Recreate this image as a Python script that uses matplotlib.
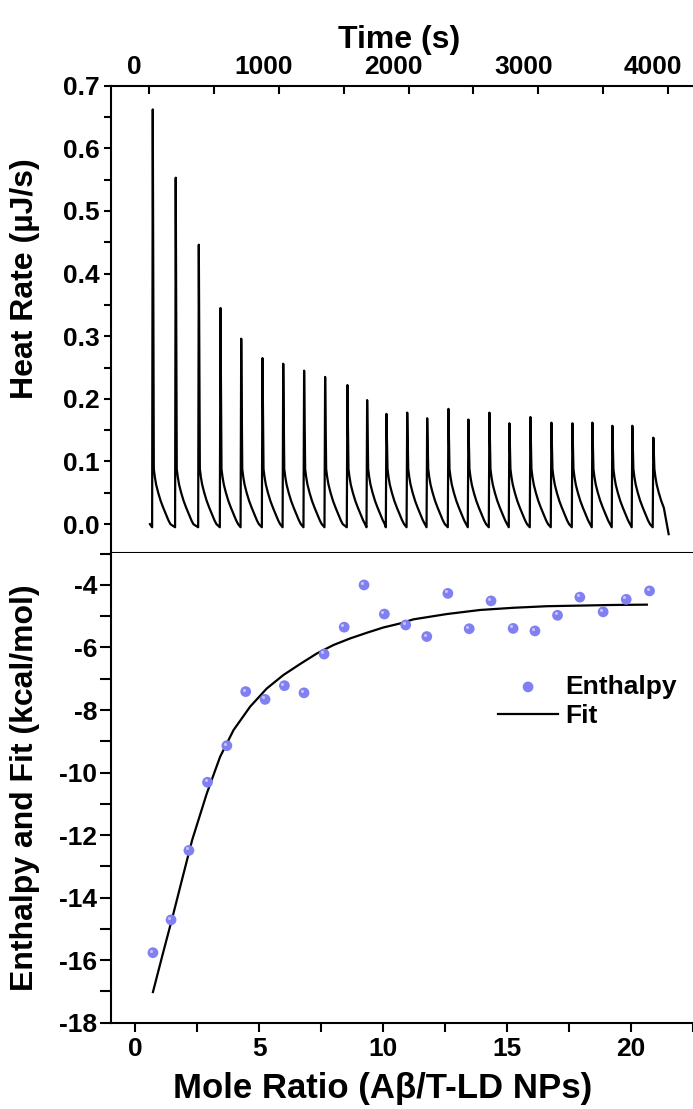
# -*- coding: utf-8 -*-
import numpy as np
import matplotlib
matplotlib.use("Agg")
import matplotlib.pyplot as plt
from matplotlib.transforms import ScaledTranslation

# ------------------------------------------------------------------
# Data
# ------------------------------------------------------------------
# raw thermogram: injection times (s) and peak heights (uJ/s)
inj_time = [23, 200, 378, 545, 705, 869, 1029, 1190, 1352, 1524, 1676, 1825,
            1985, 2139, 2303, 2457, 2619, 2773, 2935, 3097, 3259, 3413, 3567,
            3721, 3883]
peak_height = [0.662, 0.553, 0.446, 0.345, 0.296, 0.265, 0.256, 0.245, 0.235,
               0.222, 0.198, 0.176, 0.178, 0.169, 0.184, 0.167, 0.178, 0.161,
               0.171, 0.162, 0.161, 0.162, 0.157, 0.157, 0.138]
# shape of the decay after each spike (seconds after injection, uJ/s)
tail_dt = [12, 20, 30, 46, 65, 85, 105, 125, 140]
tail_val = [0.088, 0.075, 0.063, 0.050, 0.037, 0.026, 0.016, 0.006, 0.0]
pre_dip = -0.005
trace_start = (5, 0.0)
trace_end = (4005, -0.016)

# integrated heats
mole_ratio = [0.72, 1.45, 2.17, 2.92, 3.70, 4.46, 5.24, 6.02, 6.81, 7.62,
              8.43, 9.23, 10.05, 10.91, 11.76, 12.61, 13.47, 14.35, 15.24,
              16.12, 17.03, 17.93, 18.87, 19.80, 20.74]
enthalpy = [-15.76, -14.71, -12.49, -10.31, -9.14, -7.41, -7.66, -7.22, -7.45,
            -6.21, -5.35, -4.00, -4.93, -5.28, -5.65, -4.27, -5.40, -4.51,
            -5.39, -5.47, -4.97, -4.39, -4.86, -4.46, -4.19]

# fitted curve
fit_x = [0.72, 1.10, 1.50, 1.90, 2.30, 2.89, 3.43, 3.97, 4.64, 5.31, 5.98,
         6.65, 7.33, 8.00, 8.67, 9.34, 10.01, 10.69, 11.22, 12.57, 13.91,
         15.25, 16.60, 17.94, 19.29, 20.63]
fit_y = [-17.02, -15.85, -14.65, -13.40, -12.16, -10.67, -9.49, -8.64, -7.89,
         -7.31, -6.88, -6.53, -6.19, -5.92, -5.71, -5.53, -5.36, -5.23, -5.10,
         -4.93, -4.80, -4.73, -4.68, -4.66, -4.64, -4.63]

# ------------------------------------------------------------------
# Build the thermogram polyline from the peaks
# ------------------------------------------------------------------
t_pts = [trace_start[0]]
q_pts = [trace_start[1]]
for k, (ti, h) in enumerate(zip(inj_time, peak_height)):
    t_pts += [ti - 1, ti + 4]
    q_pts += [pre_dip, h]
    last = k == len(inj_time) - 1
    for dt, v in zip(tail_dt, tail_val):
        if last and ti + dt > trace_end[0] - 30:
            break
        t_pts.append(ti + dt)
        q_pts.append(v)
t_pts.append(trace_end[0])
q_pts.append(trace_end[1])

# ------------------------------------------------------------------
# Style
# ------------------------------------------------------------------
plt.rcParams["font.family"] = ["Liberation Sans", "DejaVu Sans"]
plt.rcParams["font.weight"] = "bold"
plt.rcParams["axes.labelweight"] = "bold"
plt.rcParams["axes.linewidth"] = 1.5
plt.rcParams["axes.unicode_minus"] = False

tick_fs = 19
label_fs = 23
point_color = "#8080f2"

fig = plt.figure(figsize=(6.93, 11.09), dpi=100)
ax1 = fig.add_axes([0.1602, 0.5014, 0.858, 0.4214])
ax2 = fig.add_axes([0.1602, 0.0778, 0.858, 0.4235])

# ------------------------------------------------------------------
# Top panel: raw heat rate
# ------------------------------------------------------------------
ax1.plot(t_pts, q_pts, color="black", lw=1.6)
ax1.set_xlim(-295, 4290)
ax1.set_ylim(-0.046, 0.698)
ax1.xaxis.tick_top()
ax1.xaxis.set_label_position("top")
ax1.set_xticks([0, 1000, 2000, 3000, 4000])
ax1.set_xticks([500, 1500, 2500, 3500], minor=True)
ax1.set_yticks(np.arange(0, 0.71, 0.1))
ax1.set_yticks(np.arange(0.05, 0.7, 0.1), minor=True)
ax1.set_yticklabels(["%.1f" % v for v in np.arange(0, 0.71, 0.1)])
ax1.tick_params(axis="x", which="both", direction="in", top=True, bottom=False,
                length=6, width=1.5, labelsize=tick_fs, pad=5)
ax1.tick_params(axis="y", which="both", direction="out", length=5, width=1.5,
                labelsize=tick_fs, pad=3)
ax1.set_xlabel("Time (s)", fontsize=label_fs)
ax1.xaxis.set_label_coords(0.484, 1.08)
ax1.set_ylabel("Heat Rate (µJ/s)", fontsize=label_fs)
ax1.yaxis.set_label_coords(-0.12, 0.588)

# top tick labels sit a bit left of their ticks in the original
shift = ScaledTranslation(-0.15, 0, fig.dpi_scale_trans)
for tick in ax1.xaxis.get_major_ticks():
    tick.label2.set_transform(tick.label2.get_transform() + shift)

# ------------------------------------------------------------------
# Bottom panel: enthalpy and fit
# ------------------------------------------------------------------
ax2.scatter(mole_ratio, enthalpy, s=60, color=point_color, edgecolors="none",
            zorder=3, label="Enthalpy")
glint = ScaledTranslation(-0.02, 0.02, fig.dpi_scale_trans)
ax2.plot(mole_ratio, enthalpy, "o", ms=2.2, color="white", alpha=0.55,
         mec="none", zorder=4, transform=ax2.transData + glint)
ax2.plot(fit_x, fit_y, color="black", lw=1.6, zorder=2, label="Fit")

ax2.set_xlim(-0.97, 23.0)
ax2.set_ylim(-18, -2.98)
ax2.set_xticks([0, 5, 10, 15, 20])
ax2.set_xticks([2.5, 7.5, 12.5, 17.5, 22.5], minor=True)
ax2.set_yticks(np.arange(-18, -3, 2))
ax2.set_yticks(np.arange(-17, -2.5, 2), minor=True)
ax2.tick_params(axis="x", which="both", direction="out", length=6.5,
                width=1.5, labelsize=tick_fs, pad=4)
ax2.tick_params(axis="y", which="both", direction="out", length=8,
                width=1.5, labelsize=tick_fs, pad=2)
ax2.spines["top"].set_visible(False)
ax2.set_xlabel("Mole Ratio (Aβ/T-LD NPs)", fontsize=label_fs + 2)
ax2.xaxis.set_label_coords(0.457, -0.105)
ax2.set_ylabel("Enthalpy and Fit (kcal/mol)", fontsize=label_fs)
ax2.yaxis.set_label_coords(-0.12, 0.50)

ax2.legend(loc="center left", bbox_to_anchor=(0.651, 0.684), frameon=False,
           fontsize=19, scatterpoints=1, handlelength=2.27, handletextpad=0.28,
           labelspacing=0.2, borderpad=0, borderaxespad=0)

fig.savefig("out.png", dpi=100)
